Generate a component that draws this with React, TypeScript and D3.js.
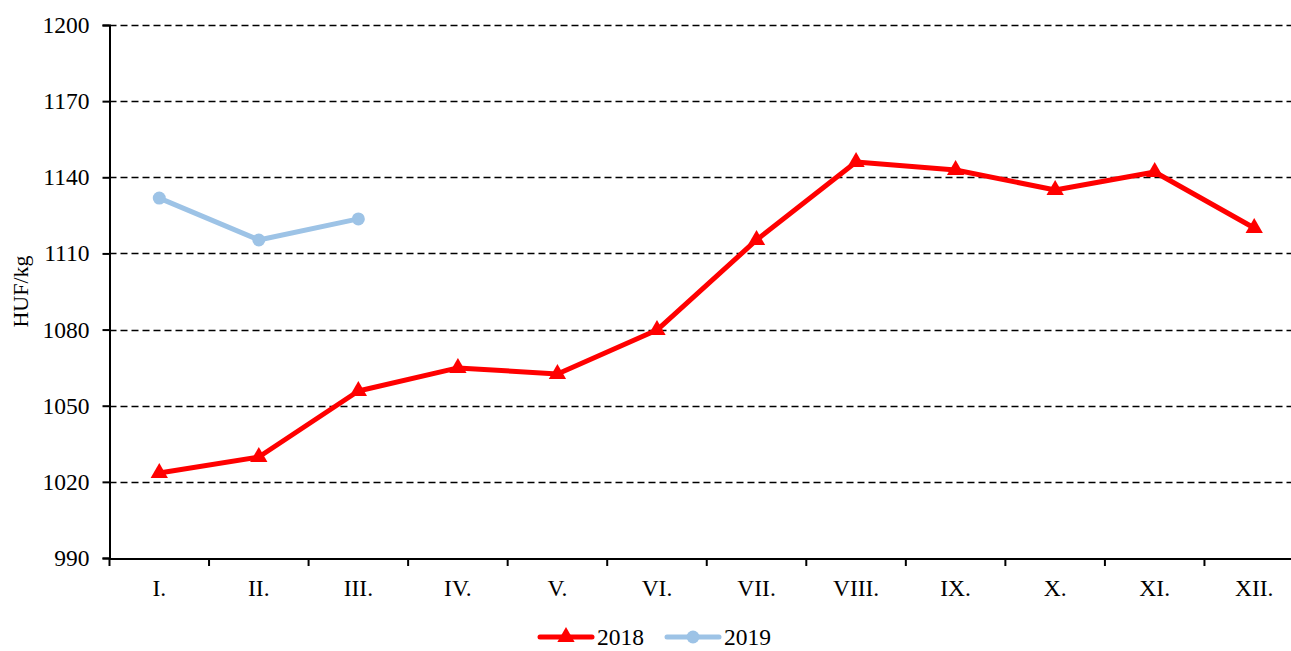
import { useEffect, useRef } from "react";
import * as d3 from "d3";

const months = ["I.", "II.", "III.", "IV.", "V.", "VI.", "VII.", "VIII.", "IX.", "X.", "XI.", "XII."];
const values2018 = [1023.5, 1029.8, 1055.8, 1064.9, 1062.5, 1079.8, 1115.3, 1146, 1142.9, 1135, 1142.1, 1120];
const values2019 = [1131.8, 1115.3, 1123.6];
const yTicks = [990, 1020, 1050, 1080, 1110, 1140, 1170, 1200];

const width = 1291, height = 651;
const margin = { top: 25, right: -13, bottom: 93, left: 109.5 };
const font = "'Liberation Serif', 'Times New Roman', serif";

const App = () => {
  const ref = useRef(null);

  useEffect(() => {
    const svg = d3.select(ref.current)
      .append("svg")
      .attr("width", width)
      .attr("height", height)
      .style("position", "absolute")
      .style("left", "0px")
      .style("top", "0px")
      .style("font-family", font);

    const x = d3.scaleBand()
      .domain(months)
      .range([margin.left, width - margin.right]);

    const y = d3.scaleLinear()
      .domain([990, 1200])
      .range([height - margin.bottom, margin.top]);

    // grid lines
    svg.append("g")
      .selectAll("line")
      .data(yTicks.filter(d => d > 990))
      .join("line")
        .attr("x1", margin.left)
        .attr("x2", width)
        .attr("y1", d => Math.round(y(d)) + 0.5)
        .attr("y2", d => Math.round(y(d)) + 0.5)
        .attr("stroke", "#000")
        .attr("stroke-width", 1.5)
        .attr("stroke-dasharray", "7,4");

    // y axis
    const yAxis = svg.append("g")
      .attr("transform", `translate(${margin.left},0)`)
      .call(d3.axisLeft(y).tickValues(yTicks).tickSize(7).tickPadding(13).tickFormat(d3.format("d")));
    yAxis.select(".domain").attr("stroke-width", 2);
    yAxis.selectAll(".tick line").attr("stroke-width", 2);
    yAxis.selectAll("text").attr("font-size", 23.5).attr("font-family", font).attr("fill", "#000");

    // x axis
    const xAxis = svg.append("g")
      .attr("transform", `translate(0,${Math.round(y(990)) + 0.5})`)
      .call(d3.axisBottom(x).tickSize(0).tickPadding(21));
    xAxis.select(".domain").attr("stroke-width", 2);
    xAxis.selectAll("text").attr("font-size", 23.5).attr("font-family", font).attr("fill", "#000");

    // band boundary ticks
    svg.append("g")
      .selectAll("line")
      .data(months)
      .join("line")
        .attr("x1", d => x(d) as number)
        .attr("x2", d => x(d) as number)
        .attr("y1", y(990))
        .attr("y2", y(990) + 8)
        .attr("stroke", "#000")
        .attr("stroke-width", 2);

    // y label
    svg.append("text")
      .attr("transform", `translate(28,${(y(1200) + y(990)) / 2}) rotate(-90)`)
      .attr("text-anchor", "middle")
      .attr("font-size", 22)
      .text("HUF/kg");

    const cx = (i: number) => (x(months[i]) as number) + x.bandwidth() / 2;
    const line = d3.line<number>().x((_, i) => cx(i)).y(d => y(d));
    const tri = d3.symbol().type(d3.symbolTriangle).size(130);

    // 2018
    svg.append("path")
      .datum(values2018)
      .attr("d", line)
      .attr("fill", "none")
      .attr("stroke", "#ff0000")
      .attr("stroke-width", 5)
      .attr("stroke-linejoin", "round");
    svg.append("g")
      .selectAll("path")
      .data(values2018)
      .join("path")
        .attr("d", tri)
        .attr("transform", (d, i) => `translate(${cx(i)},${y(d)})`)
        .attr("fill", "#ff0000");

    // 2019
    const blue = "#9dc3e6";
    svg.append("path")
      .datum(values2019)
      .attr("d", line)
      .attr("fill", "none")
      .attr("stroke", blue)
      .attr("stroke-width", 5)
      .attr("stroke-linejoin", "round");
    svg.append("g")
      .selectAll("circle")
      .data(values2019)
      .join("circle")
        .attr("cx", (_, i) => cx(i))
        .attr("cy", d => y(d))
        .attr("r", 6.5)
        .attr("fill", blue);

    // legend
    const legend = svg.append("g").attr("transform", "translate(540,637)");
    const items = [
      { label: "2018", color: "#ff0000", x: 0, marker: "tri" },
      { label: "2019", color: blue, x: 127, marker: "circle" },
    ];
    items.forEach(it => {
      const g = legend.append("g").attr("transform", `translate(${it.x},0)`);
      g.append("line").attr("x1", 0).attr("x2", 52).attr("stroke", it.color)
        .attr("stroke-width", 5).attr("stroke-linecap", "round");
      if (it.marker === "tri") {
        g.append("path").attr("d", tri).attr("transform", "translate(26,0)").attr("fill", it.color);
      } else {
        g.append("circle").attr("cx", 26).attr("r", 6.5).attr("fill", it.color);
      }
      g.append("text").attr("x", 57).attr("dy", "0.35em").attr("font-size", 23.5).text(it.label);
    });

    return () => {
      d3.select(ref.current).select("svg").remove();
    };
  }, []);

  return <div ref={ref}></div>;
};

export default App;
